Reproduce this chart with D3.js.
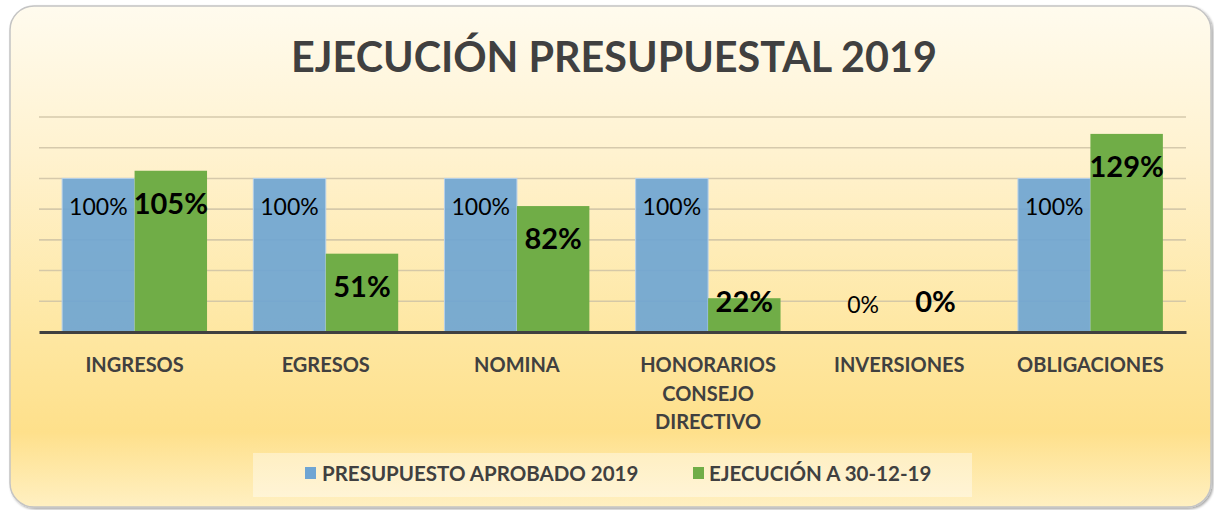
<!DOCTYPE html>
<html><head><meta charset="utf-8">
<script src="https://cdn.jsdelivr.net/npm/d3@7"></script>
<style>html,body{margin:0;padding:0;background:#fff;}svg{display:block;}</style>
</head><body>
<svg id="chart" width="1214" height="510"></svg>
<script>
const categories = [["INGRESOS"],["EGRESOS"],["NOMINA"],["HONORARIOS","CONSEJO","DIRECTIVO"],["INVERSIONES"],["OBLIGACIONES"]];
const presupuesto = [100,100,100,100,0,100];
const ejecucion = [105,51,82,22,0,129];
const seriesNames = ["PRESUPUESTO APROBADO 2019","EJECUCIÓN A 30-12-19"];
const yTicks = [0,20,40,60,80,100,120,140];
const title = "EJECUCIÓN PRESUPUESTAL 2019";

(function(){
const svg = d3.select("#chart");
const FONT = "Lato, 'Open Sans', sans-serif";
const defs = svg.append("defs");
const grad = defs.append("linearGradient").attr("id","bg").attr("x1",0).attr("y1",0).attr("x2",0).attr("y2",1);
[[0,"#fffbee"],[0.3,"#fff2cf"],[0.65,"#fee7a2"],[0.85,"#fee08b"],[1,"#fff0c2"]].forEach(s=>grad.append("stop").attr("offset",s[0]).attr("stop-color",s[1]));
const sh = defs.append("filter").attr("id","sh").attr("x","-5%").attr("y","-5%").attr("width","110%").attr("height","110%");
sh.append("feDropShadow").attr("dx",1.5).attr("dy",1.5).attr("stdDeviation",1.2).attr("flood-color","#000").attr("flood-opacity",0.35);

svg.append("rect").attr("x",10).attr("y",6).attr("width",1201).attr("height",501).attr("rx",24)
  .attr("fill","url(#bg)").attr("stroke","#c4c4c4").attr("stroke-width",1.5).attr("filter","url(#sh)");

svg.append("text").attr("x",614).attr("y",72).attr("text-anchor","middle")
  .attr("font-family",FONT).attr("font-weight","bold").attr("font-size",41.3).attr("fill","#404040").text(title);

const pLeft=39, pRight=1186, pTop=117, base=332;
const x0 = d3.scaleBand().domain(d3.range(categories.length)).range([pLeft,pRight]).paddingInner(0.242).paddingOuter(0.121);
const x1 = d3.scaleBand().domain([0,1]).range([0,x0.bandwidth()]);
const y = d3.scaleLinear().domain([0,140]).range([base,pTop]);

const g = svg.append("g");
g.selectAll(".grid").data(yTicks.filter(t=>t>0)).enter().append("line")
  .attr("x1",pLeft).attr("x2",pRight).attr("y1",d=>y(d)).attr("y2",d=>y(d))
  .attr("stroke","#cfc3a6").attr("stroke-width",1.6).attr("opacity",0.85);

const colors=["#6fa5d3","#70ad47"];
const data = categories.map((c,i)=>({i, vals:[presupuesto[i],ejecucion[i]]}));
const grp = g.selectAll(".grp").data(data).enter().append("g").attr("transform",d=>`translate(${x0(d.i)},0)`);
grp.selectAll("rect").data(d=>d.vals.map((v,k)=>({v,k}))).enter().append("rect")
  .attr("x",d=>x1(d.k)).attr("width",x1.bandwidth()).attr("y",d=>y(d.v)).attr("height",d=>base-y(d.v))
  .attr("fill",d=>colors[d.k]).attr("fill-opacity",d=>d.k===0?0.92:1)
  .attr("stroke",d=>d.k===0?"#b5d0ea":"none").attr("stroke-width",1);
grp.selectAll("text").data(d=>d.vals.map((v,k)=>({v,k}))).enter().append("text")
  .attr("x",d=>x1(d.k)+x1.bandwidth()/2)
  .attr("y",d=>d.k===0?Math.min(y(d.v)+37,base-19):Math.min(y(d.v)+43,base-20))
  .attr("text-anchor","middle").attr("font-family",FONT)
  .attr("font-weight",d=>d.k===0?"normal":"bold").attr("font-size",d=>d.k===0?23:29)
  .attr("fill","#000").text(d=>d.v+"%");

const xAxis = d3.axisBottom(x0).tickSize(0).tickFormat("");
const ax = svg.append("g").attr("transform",`translate(0,${base})`).call(xAxis);
ax.select(".domain").attr("stroke","#404040").attr("stroke-width",3.2);

const cl = svg.append("g");
categories.forEach((lines,i)=>{
  const cx = x0(i)+x0.bandwidth()/2;
  const t = cl.append("text").attr("x",cx).attr("y",372).attr("text-anchor","middle")
    .attr("font-family",FONT).attr("font-weight","bold").attr("font-size",20).attr("fill","#404040");
  lines.forEach((ln,j)=>t.append("tspan").attr("x",cx).attr("y",372+j*28.5).text(ln));
});

svg.append("rect").attr("x",253).attr("y",453).attr("width",719).attr("height",44).attr("fill","#fff").attr("opacity",0.4);
const legX=[305,693], legTX=[322,709];
seriesNames.forEach((n,k)=>{
  svg.append("rect").attr("x",legX[k]).attr("y",467).attr("width",11).attr("height",12).attr("fill",colors[k]);
  svg.append("text").attr("x",legTX[k]).attr("y",481).attr("font-family",FONT).attr("font-weight","bold")
    .attr("font-size",20.5).attr("fill","#404040").text(n);
});
})();
</script>
</body></html>
